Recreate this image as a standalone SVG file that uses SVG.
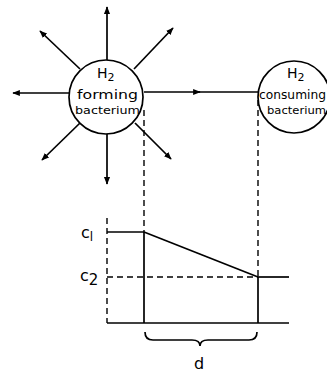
<svg xmlns="http://www.w3.org/2000/svg" width="327" height="376" viewBox="0 0 327 376">
<style>
.ln{stroke:#000;stroke-width:1.7;fill:none}
.ds{stroke:#000;stroke-width:1.4;fill:none;stroke-dasharray:6,4}
.c{stroke:#000;stroke-width:1.7;fill:#fff}
text{font-family:"DejaVu Sans","Liberation Sans",sans-serif;fill:#000}
.t{font-size:12.5px}
.b{font-size:11px}
.h{font-size:14px}
.lab{font-size:16px}
</style>
<defs>
<marker id="ah" viewBox="0 0 10 10" refX="9" refY="5" markerWidth="4.5" markerHeight="4.5" orient="auto">
<path d="M0,1 L10,5 L0,9 z" fill="#000"/>
</marker>
</defs>
<rect width="327" height="376" fill="#fff"/>
<g id="connectors">
<line class="ln" x1="107" y1="60" x2="107" y2="7" marker-end="url(#ah)"/>
<line class="ln" x1="107" y1="134" x2="107" y2="184" marker-end="url(#ah)"/>
<line class="ln" x1="69" y1="93" x2="13" y2="93" marker-end="url(#ah)"/>
<line class="ln" x1="80" y1="69" x2="40" y2="31" marker-end="url(#ah)"/>
<line class="ln" x1="80" y1="123" x2="42" y2="160" marker-end="url(#ah)"/>
<line class="ln" x1="134" y1="69" x2="173" y2="28" marker-end="url(#ah)"/>
<line class="ln" x1="135" y1="123" x2="171" y2="159" marker-end="url(#ah)"/>
<line class="ln" x1="144" y1="92" x2="200" y2="92" marker-end="url(#ah)"/>
<line class="ln" x1="198" y1="92" x2="258" y2="92"/>
</g>
<g id="forming">
<circle class="c" cx="106" cy="97" r="37"/>
<text class="h" x="97" y="78">H<tspan font-size="11" dy="3">2</tspan></text>
<text class="t" x="77" y="99" textLength="61" lengthAdjust="spacingAndGlyphs">forming</text>
<text class="b" x="75" y="114" textLength="65" lengthAdjust="spacingAndGlyphs">bacterium</text>
</g>
<g id="consuming">
<circle class="c" cx="294" cy="97" r="36"/>
<text class="h" x="287" y="78">H<tspan font-size="11" dy="3">2</tspan></text>
<text class="t" x="259" y="99" textLength="67" lengthAdjust="spacingAndGlyphs">consuming</text>
<text class="b" x="267" y="114" textLength="59" lengthAdjust="spacingAndGlyphs">bacterium</text>
</g>
<g id="graph">
<line class="ds" x1="144" y1="110" x2="144" y2="232"/>
<line class="ds" x1="258" y1="100" x2="258" y2="277"/>
<line class="ds" x1="107" y1="218" x2="107" y2="323"/>
<line class="ds" x1="107" y1="277" x2="258" y2="277"/>
<line class="ln" x1="107" y1="232" x2="144" y2="232"/>
<line class="ln" x1="144" y1="232" x2="258" y2="277"/>
<line class="ln" x1="258" y1="277" x2="289" y2="277"/>
<line class="ln" x1="144" y1="232" x2="144" y2="323"/>
<line class="ln" x1="258" y1="277" x2="258" y2="323"/>
<line class="ln" x1="107" y1="323" x2="289" y2="323"/>
<path class="ln" d="M145,332 Q145,340 153,340 L192,340 Q200,340 200,346 Q200,340 208,340 L249,340 Q257,340 257,332"/>
<text class="lab" x="81" y="238">c<tspan font-size="12" dy="3">l</tspan></text>
<text class="lab" x="80" y="281">c<tspan font-size="15" dy="4">2</tspan></text>
<text class="lab" x="194" y="369">d</text>
</g>
</svg>
